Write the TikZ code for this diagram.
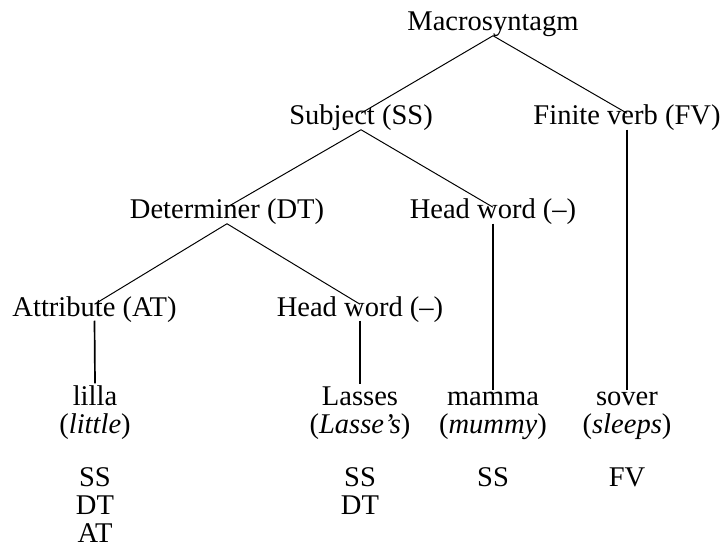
\documentclass[tikz,border=0pt]{standalone}
\usepackage{fontspec}
\setmainfont{Liberation Serif}
\usetikzlibrary{positioning}
\tikzset{every picture/.style={line width=0.75pt}}
\tikzset{
  cat/.style={anchor=base, inner sep=1pt, text height=0.7em, text depth=0.2em},
  word/.style={anchor=base, inner sep=1pt, align=center, execute at begin node={\vphantom{l}}},
  tag/.style={anchor=base, inner sep=1pt, align=center},
  branch/.style={line width=0.7pt},
  stem/.style={line width=1.2pt}
}

\begin{document}
\begin{tikzpicture}[font=\fontsize{20.3}{19.9}\selectfont]
    \useasboundingbox (0,0) rectangle (18.05,13.85);
    % constituents
    \node[cat] (macro) at (12.325,13.075) {Macrosyntagm};
    \node[cat] (subj) at (9.025,10.725) {Subject (SS)};
    \node[cat] (fv) at (15.675,10.725) {Finite verb (FV)};
    \node[cat] (det) at (5.675,8.375) {Determiner (DT)};
    \node[cat] (hwa) at (12.325,8.375) {Head word (--)};
    \node[cat] (attr) at (2.3625,5.95) {Attribute (AT)};
    \node[cat] (hwb) at (9.0,5.95) {Head word (--)};
    % words (base = last line)
    \node[word] (lilla) at (2.375,3.025) {lilla\\(\textit{little})};
    \node[word] (lasses) at (9.0,3.025) {Lasses\\(\textit{Lasse's})};
    \node[word] (mamma) at (12.325,3.025) {mamma\\(\textit{mummy})};
    \node[word] (sover) at (15.675,3.025) {sover\\(\textit{sleeps})};
    % functions
    \node[tag] (tlilla) at (2.375,0.3) {SS\\DT\\AT};
    \node[tag] (tlasses) at (9.0,1.0) {SS\\DT};
    \node[tag] (tmamma) at (12.325,1.7) {SS};
    \node[tag] (tsover) at (15.675,1.7) {FV};
    % branches
    \draw[branch] (macro.south) -- (subj.north);
    \draw[branch] (macro.south) -- (fv.north);
    \draw[branch] (subj.south) -- (det.north);
    \draw[branch] (subj.south) -- (hwa.north);
    \draw[branch] (det.south) -- (attr.north);
    \draw[branch] (det.south) -- (hwb.north);
    % stems
    \draw[stem] (attr.south) -- (lilla.north);
    \draw[stem] (hwb.south) -- (lasses.north);
    \draw[stem] (hwa.south) -- (mamma.north);
    \draw[stem, line width=1.6pt] (fv.south) -- (sover.north);
\end{tikzpicture}
\end{document}
